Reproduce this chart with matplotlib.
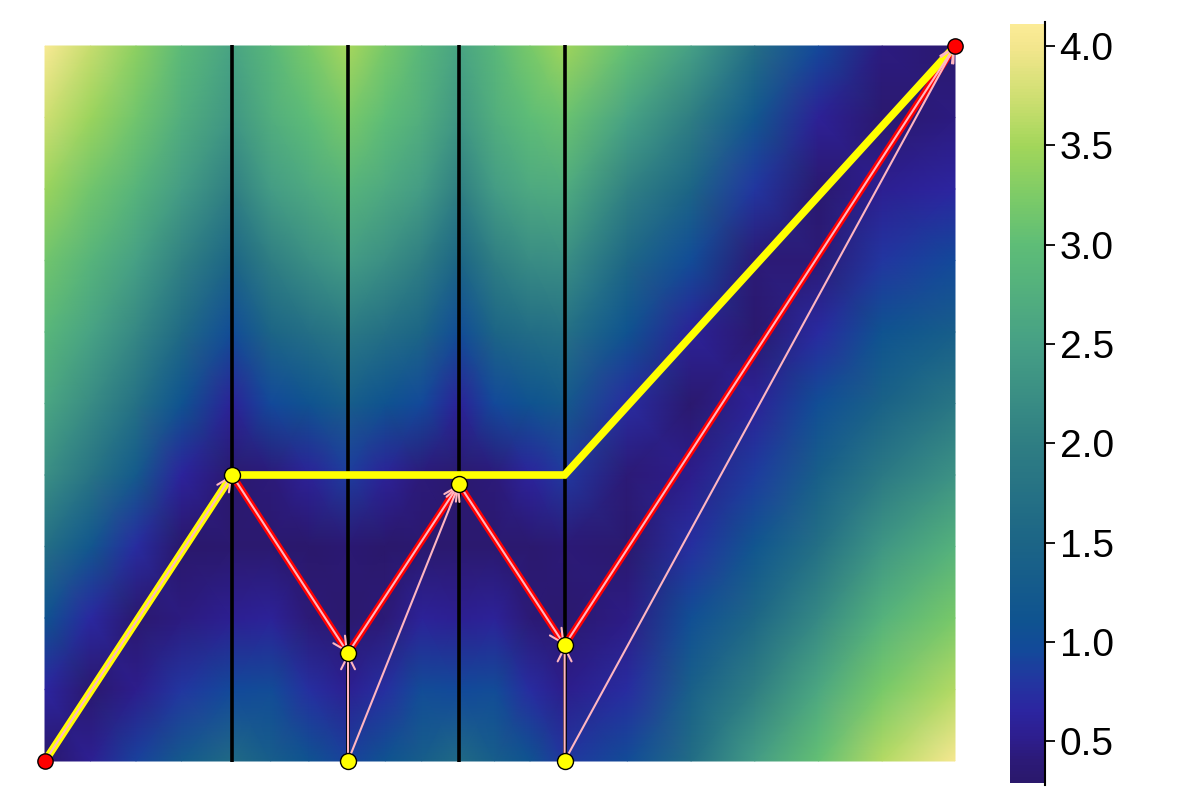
import numpy as np
import matplotlib
matplotlib.use('Agg')
import matplotlib.pyplot as plt
from matplotlib.colors import LinearSegmentedColormap, Normalize
from matplotlib.cm import ScalarMappable

plt.rcParams['font.family'] = ['Liberation Sans', 'DejaVu Sans']

# ---------------- colour scale ----------------
vmin, vmax = 0.29, 4.11
cbar_ticks = [0.5, 1.0, 1.5, 2.0, 2.5, 3.0, 3.5, 4.0]
cmap_values = [0.29, 0.4, 0.5, 0.65, 0.8, 0.95, 1.1, 1.5, 2.0, 2.5, 3.0, 3.25,
               3.5, 3.75, 4.0, 4.11]
cmap_colors = ['#2a186c', '#2c1a78', '#2d1d8c', '#2c25a0', '#2236a0', '#13499a',
               '#0f5390', '#1c6586', '#2f7e83', '#46a085', '#5ebd77', '#7dcb67',
               '#a2d65a', '#cfdf72', '#f3e68d', '#fbeb96']

# ---------------- field (values read at grid nodes) ----------------
grid_y = [0.0, 0.1, 0.2, 0.3, 0.4, 0.5, 0.6, 0.7, 0.8, 0.9, 1.0]

col1_x = [0.0, 0.05, 0.1, 0.15, 0.2055]
col1_vals = [
    [0.30, 0.65, 1.10, 1.70, 2.25, 2.60, 2.90, 3.15, 3.45, 3.75, 4.08],
    [0.55, 0.32, 0.68, 1.20, 1.80, 2.20, 2.55, 2.85, 3.15, 3.45, 3.70],
    [0.90, 0.50, 0.32, 0.72, 1.25, 1.75, 2.15, 2.50, 2.85, 3.15, 3.35],
    [1.25, 0.80, 0.45, 0.30, 0.62, 1.10, 1.60, 2.05, 2.45, 2.75, 2.95],
    [1.60, 0.95, 0.55, 0.32, 0.32, 0.60, 1.00, 1.50, 2.00, 2.35, 2.55],
]

col2_x = [0.2055, 0.248, 0.29, 0.333]
col2_vals = [
    [1.60, 0.95, 0.55, 0.32, 0.32, 0.60, 1.00, 1.50, 2.00, 2.35, 2.55],
    [1.35, 1.00, 0.60, 0.32, 0.42, 0.95, 1.50, 2.00, 2.45, 2.75, 2.90],
    [1.10, 0.75, 0.40, 0.30, 0.60, 1.10, 1.70, 2.25, 2.65, 3.00, 3.20],
    [0.90, 0.55, 0.33, 0.35, 0.85, 1.35, 1.90, 2.45, 2.85, 3.20, 3.52],
]

col3_x = [0.333, 0.374, 0.414, 0.455]
col3_vals = [
    [0.90, 0.55, 0.33, 0.35, 0.85, 1.35, 1.90, 2.45, 2.85, 3.20, 3.52],
    [1.10, 0.75, 0.40, 0.30, 0.60, 1.10, 1.70, 2.25, 2.65, 3.00, 3.20],
    [1.35, 1.00, 0.60, 0.32, 0.42, 0.95, 1.50, 2.00, 2.45, 2.75, 2.90],
    [1.60, 0.95, 0.55, 0.32, 0.32, 0.60, 1.00, 1.50, 2.00, 2.35, 2.55],
]

col4_x = [0.455, 0.494, 0.533, 0.571]
col4_vals = [
    [1.60, 0.95, 0.55, 0.32, 0.32, 0.60, 1.00, 1.50, 2.00, 2.35, 2.55],
    [1.35, 1.00, 0.60, 0.32, 0.42, 0.95, 1.50, 2.00, 2.45, 2.75, 2.90],
    [1.10, 0.72, 0.38, 0.32, 0.62, 1.10, 1.65, 2.20, 2.65, 3.00, 3.20],
    [0.80, 0.50, 0.32, 0.40, 0.82, 1.25, 1.75, 2.25, 2.70, 3.10, 3.48],
]

col5_x = [0.571, 0.64, 0.71, 0.78, 0.85, 0.92, 1.0]
col5_vals = [
    [0.80, 0.50, 0.32, 0.40, 0.82, 1.25, 1.75, 2.25, 2.70, 3.10, 3.48],
    [1.00, 0.72, 0.48, 0.32, 0.40, 0.72, 1.10, 1.55, 2.05, 2.55, 3.05],
    [1.65, 1.40, 1.05, 0.75, 0.50, 0.32, 0.60, 1.00, 1.50, 2.00, 2.50],
    [2.45, 2.00, 1.55, 1.17, 0.85, 0.60, 0.33, 0.38, 0.80, 1.20, 1.70],
    [3.05, 2.62, 2.17, 1.72, 1.37, 1.03, 0.70, 0.40, 0.33, 0.58, 0.95],
    [3.60, 3.20, 2.80, 2.35, 1.90, 1.45, 1.10, 0.80, 0.55, 0.32, 0.45],
    [4.05, 3.60, 3.20, 2.80, 2.30, 1.85, 1.35, 0.95, 0.65, 0.45, 0.32],
]

# ---------------- paths / points ----------------
layers = [0.2055, 0.333, 0.455, 0.571]
red_path_x = [0.0, 0.2055, 0.333, 0.455, 0.571, 1.0]
red_path_y = [0.0, 0.400, 0.151, 0.387, 0.162, 1.0]
yellow_path_x = [0.0, 0.2055, 0.571, 1.0]
yellow_path_y = [0.0, 0.400, 0.400, 1.0]
bottom_nodes_x = [0.333, 0.571]
bottom_nodes_y = [0.0, 0.0]
# extra arrows (start -> end)
extra_arrows = [((0.333, 0.0), (0.333, 0.151)),
                ((0.333, 0.0), (0.455, 0.387)),
                ((0.571, 0.0), (0.571, 0.162)),
                ((0.571, 0.0), (1.0, 1.0))]

# ---------------- figure ----------------
fig = plt.figure(figsize=(12, 8), dpi=100)
ax = fig.add_axes([43 / 1200, 38 / 800, 914 / 1200, 717 / 800])
ax.set_xlim(-0.0022, 1.0022)
ax.set_ylim(-0.0014, 1.0014)
ax.axis('off')

cmap = LinearSegmentedColormap.from_list(
    'haline_like',
    [((v - vmin) / (vmax - vmin), c) for v, c in zip(cmap_values, cmap_colors)])
norm = Normalize(vmin=vmin, vmax=vmax)

for cx, cv in [(col1_x, col1_vals), (col2_x, col2_vals), (col3_x, col3_vals),
               (col4_x, col4_vals), (col5_x, col5_vals)]:
    X, Y = np.meshgrid(cx, grid_y)
    Z = np.array(cv).T
    ax.pcolormesh(X, Y, Z, shading='gouraud', cmap=cmap, norm=norm, zorder=1,
                  rasterized=True)

ax.vlines(layers, -0.0014, 1.0014, color='black', lw=2.6, zorder=2)

ax.plot(red_path_x, red_path_y, color='red', lw=5, zorder=3,
        solid_joinstyle='miter', solid_capstyle='butt')
ax.plot(yellow_path_x, yellow_path_y, color='yellow', lw=5.5, zorder=4,
        solid_joinstyle='miter', solid_capstyle='butt')

pink = '#ffb6c1'
arrow_props = dict(arrowstyle='->,head_length=0.5,head_width=0.25', color=pink,
                   lw=1.5, shrinkA=0, shrinkB=0, mutation_scale=20)
for i in range(len(red_path_x) - 1):
    ax.annotate('', xy=(red_path_x[i + 1], red_path_y[i + 1]),
                xytext=(red_path_x[i], red_path_y[i]),
                arrowprops=arrow_props, zorder=5, annotation_clip=False)
for (sx, sy), (ex, ey) in extra_arrows:
    ax.annotate('', xy=(ex, ey), xytext=(sx, sy),
                arrowprops=arrow_props, zorder=5, annotation_clip=False)

# nodes
ax.plot(red_path_x[1:-1], red_path_y[1:-1], 'o', color='yellow', mec='black',
        mew=1.0, ms=11.5, zorder=6, clip_on=False)
ax.plot(bottom_nodes_x, bottom_nodes_y, 'o', color='yellow', mec='black',
        mew=1.0, ms=11.5, zorder=6, clip_on=False)
ax.plot([red_path_x[0], red_path_x[-1]], [red_path_y[0], red_path_y[-1]], 'o',
        color='red', mec='black', mew=1.0, ms=11, zorder=6, clip_on=False)

# colorbar
cax = fig.add_axes([1010 / 1200, 17 / 800, 35 / 1200, 759 / 800])
sm = ScalarMappable(norm=norm, cmap=cmap)
cbar = fig.colorbar(sm, cax=cax, ticks=cbar_ticks)
cbar.outline.set_visible(False)
cax.plot([1, 1], [-0.003, 1.003], transform=cax.transAxes, color='black',
         lw=1.5, clip_on=False)
cax.tick_params(labelsize=28, length=7, width=1.3, direction='out', color='black')

fig.savefig('out.png', dpi=100)
